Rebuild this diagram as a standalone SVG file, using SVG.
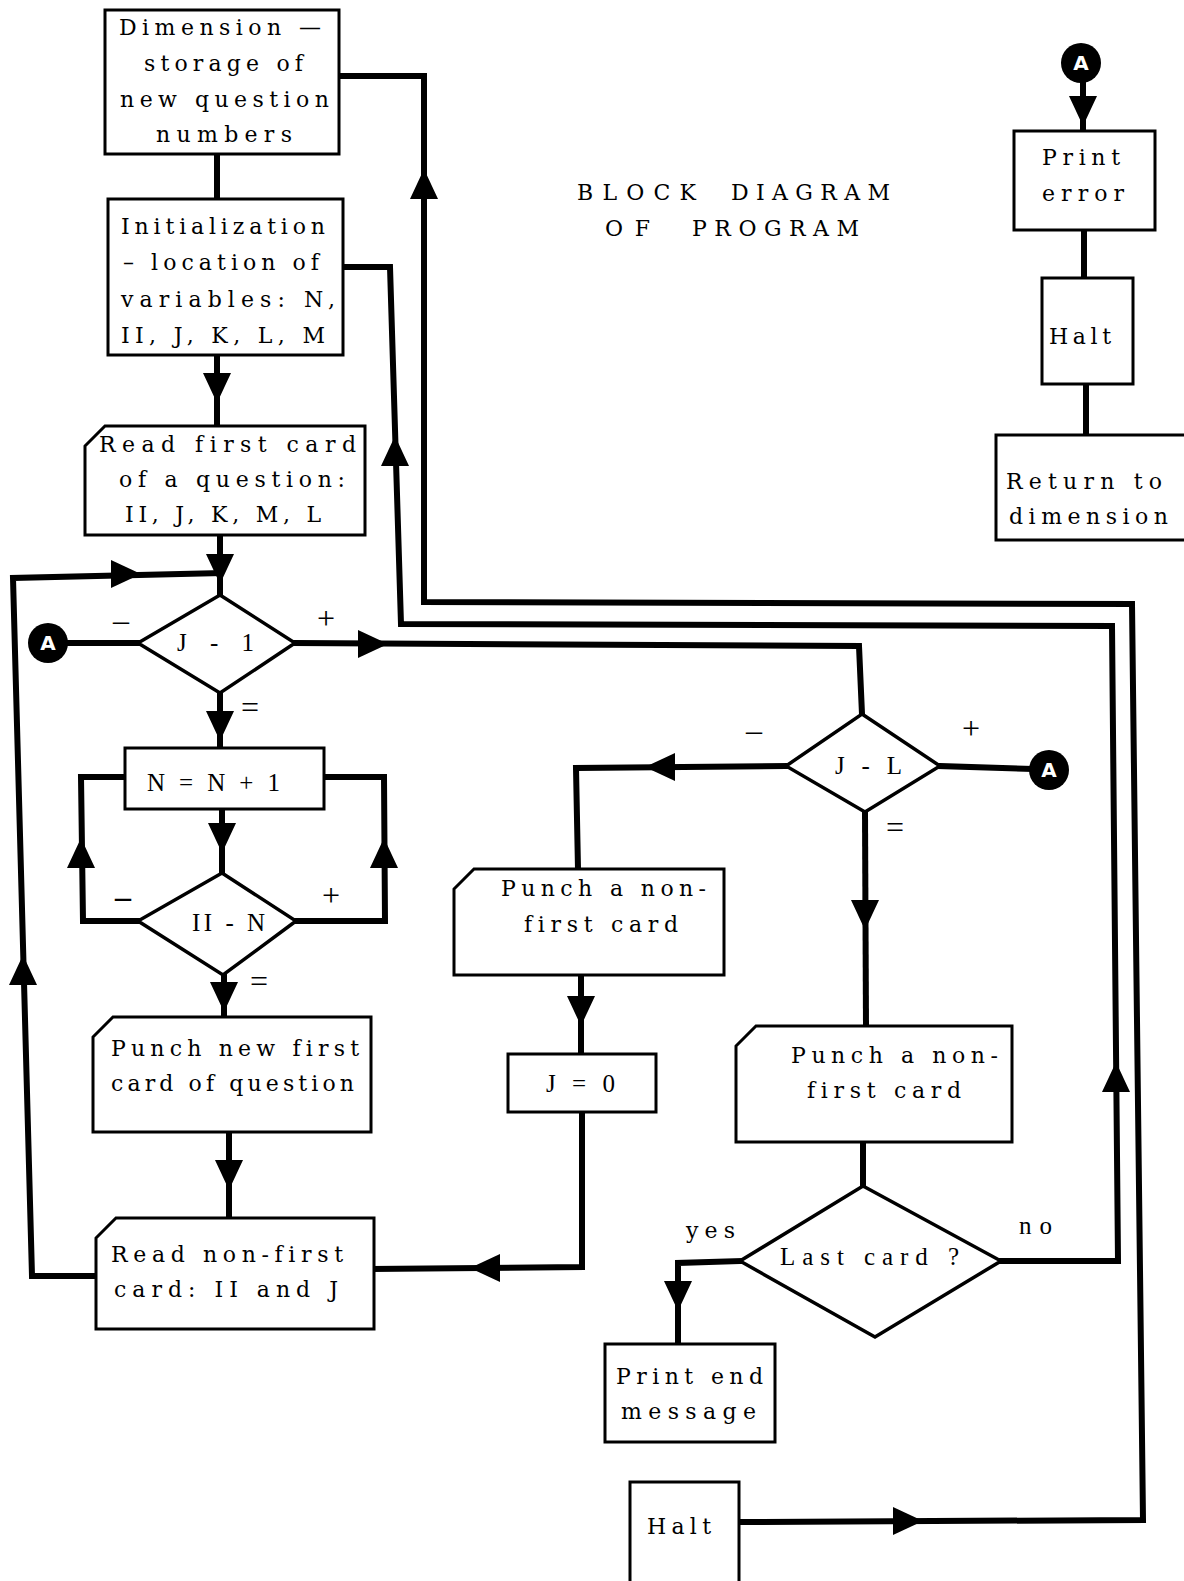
<svg xmlns="http://www.w3.org/2000/svg" xmlns:xlink="http://www.w3.org/1999/xlink" width="1184" height="1581" viewBox="0 0 1184 1581">
<style>
.bg{fill:#fff}
.box{fill:#fff;stroke:#000;stroke-width:3;stroke-linejoin:miter}
.dia{fill:#fff;stroke:#000;stroke-width:3.5;stroke-linejoin:miter}
.c{fill:none;stroke:#000;stroke-width:6;stroke-linejoin:miter;stroke-linecap:square}
.t{font-family:"DejaVu Serif","Liberation Serif",serif;font-size:22px;fill:#000;font-variant-ligatures:none}
.s{font-family:"Liberation Serif","DejaVu Serif",serif;font-size:25px;fill:#000;font-variant-ligatures:none}
.l{font-family:"Liberation Serif","DejaVu Serif",serif;font-size:32px;fill:#000;text-anchor:middle}
.conn{fill:#000}
.ct{font-family:"DejaVu Sans","Liberation Sans",sans-serif;font-size:20px;font-weight:bold;fill:#fff;text-anchor:middle}
</style>
<defs>
<path id="ah" d="M0,0 L-14,-30 L14,-30 Z"/>
</defs>
<rect class="bg" x="0" y="0" width="1184" height="1581"/>

<g id="connectors">
<path class="c" d="M217,154 V199"/>
<path class="c" d="M217,355 V426"/>
<path class="c" d="M220,535 V595"/>
<path class="c" d="M96,1276 H32 L13,578 L220,573"/>
<path class="c" d="M66,643 H138"/>
<path class="c" d="M295,643 L859,646 L862,714"/>
<path class="c" d="M220,693 V748"/>
<path class="c" d="M125,777 H81 L83,921 H138"/>
<path class="c" d="M324,777 H384 L385,921 H296"/>
<path class="c" d="M222,809 V873"/>
<path class="c" d="M224,975 V1017"/>
<path class="c" d="M229,1132 V1218"/>
<path class="c" d="M582,1112 V1267 L374,1269"/>
<path class="c" d="M581,975 V1054"/>
<path class="c" d="M786,766 L576,768 L578,869"/>
<path class="c" d="M940,766 L1030,769"/>
<path class="c" d="M865,812 L866,1026"/>
<path class="c" d="M863,1142 V1186"/>
<path class="c" d="M740,1261 L678,1263 L678,1344"/>
<path class="c" d="M1001,1261 H1118 L1112,626 L401,624 L390,267 H343"/>
<path class="c" d="M739,1522 L1143,1520 L1132,604 L424,602 V76 H339"/>
<path class="c" d="M1083,83 V131"/>
<path class="c" d="M1084,230 V278"/>
<path class="c" d="M1086,384 V435"/>
<g class="conn">
<use xlink:href="#ah" transform="translate(217,403)"/>
<use xlink:href="#ah" transform="translate(220,584)"/>
<use xlink:href="#ah" transform="translate(141,574) rotate(-90)"/>
<use xlink:href="#ah" transform="translate(23,955) rotate(180)"/>
<use xlink:href="#ah" transform="translate(388,644) rotate(-90)"/>
<use xlink:href="#ah" transform="translate(220,741)"/>
<use xlink:href="#ah" transform="translate(81,838) rotate(180)"/>
<use xlink:href="#ah" transform="translate(384,838) rotate(180)"/>
<use xlink:href="#ah" transform="translate(222,853)"/>
<use xlink:href="#ah" transform="translate(224,1012)"/>
<use xlink:href="#ah" transform="translate(229,1190)"/>
<use xlink:href="#ah" transform="translate(470,1268) rotate(90)"/>
<use xlink:href="#ah" transform="translate(581,1026)"/>
<use xlink:href="#ah" transform="translate(645,767) rotate(90)"/>
<use xlink:href="#ah" transform="translate(865,930)"/>
<use xlink:href="#ah" transform="translate(678,1311)"/>
<use xlink:href="#ah" transform="translate(1116,1062) rotate(180)"/>
<use xlink:href="#ah" transform="translate(395,436) rotate(180)"/>
<use xlink:href="#ah" transform="translate(923,1521) rotate(-90)"/>
<use xlink:href="#ah" transform="translate(424,169) rotate(180)"/>
<use xlink:href="#ah" transform="translate(1083,126)"/>
</g>
</g>

<g id="title">
<text class="t" y="200"><tspan x="577" textLength="119" lengthAdjust="spacing">BLOCK</tspan><tspan x="731" textLength="159" lengthAdjust="spacing">DIAGRAM</tspan></text>
<text class="t" y="236"><tspan x="605" textLength="45" lengthAdjust="spacing">OF</tspan><tspan x="692" textLength="167" lengthAdjust="spacing">PROGRAM</tspan></text>
</g>

<g id="dimension">
<rect class="box" x="105" y="10" width="234" height="144"/>
<text class="t" x="119" y="35" textLength="202" lengthAdjust="spacing">Dimension —</text>
<text class="t" x="144" y="71" textLength="159" lengthAdjust="spacing">storage of</text>
<text class="t" x="120" y="107" textLength="209" lengthAdjust="spacing">new question</text>
<text class="t" x="156" y="142" textLength="136" lengthAdjust="spacing">numbers</text>
</g>

<g id="initialization">
<rect class="box" x="108" y="199" width="235" height="156"/>
<text class="t" x="121" y="234" textLength="204" lengthAdjust="spacing">Initialization</text>
<text class="t" x="123" y="270" textLength="196" lengthAdjust="spacing">– location of</text>
<text class="t" x="121" y="307" textLength="214" lengthAdjust="spacing">variables: N,</text>
<text class="t" x="121" y="343" textLength="204" lengthAdjust="spacing">II, J, K, L, M</text>
</g>

<g id="read-first">
<path class="box" d="M85,446 L105,426 H365 V535 H85 Z"/>
<text class="t" x="99" y="452" textLength="257" lengthAdjust="spacing">Read first card</text>
<text class="t" x="119" y="487" textLength="226" lengthAdjust="spacing">of a question:</text>
<text class="t" x="125" y="522" textLength="196" lengthAdjust="spacing">II, J, K, M, L</text>
</g>

<g id="connector-a-left">
<circle cx="48" cy="643" r="20" fill="#000"/>
<text class="ct" x="48" y="650">A</text>
</g>

<g id="j-1">
<path class="dia" d="M220,595 L295,643 L220,693 L138,643 Z"/>
<text class="s" x="177" y="651" textLength="77" lengthAdjust="spacing">J - 1</text>
<text class="l" x="121" y="631">–</text>
<text class="l" x="326" y="629">+</text>
<text class="l" x="250" y="718">=</text>
</g>

<g id="n-plus-1">
<rect class="box" x="125" y="748" width="199" height="61"/>
<text class="s" x="147" y="791" textLength="133" lengthAdjust="spacing">N = N + 1</text>
</g>

<g id="ii-n">
<path class="dia" d="M222,873 L296,921 L223,975 L138,921 Z"/>
<text class="s" x="192" y="931" textLength="73" lengthAdjust="spacing">II - N</text>
<text class="l" x="123" y="907" font-weight="bold">–</text>
<text class="l" x="331" y="906">+</text>
<text class="l" x="259" y="992">=</text>
</g>

<g id="punch-new-first">
<path class="box" d="M93,1037 L113,1017 H371 V1132 H93 Z"/>
<text class="t" x="111" y="1056" textLength="248" lengthAdjust="spacing">Punch new first</text>
<text class="t" x="111" y="1091" textLength="243" lengthAdjust="spacing">card of question</text>
</g>

<g id="read-non-first">
<path class="box" d="M96,1238 L116,1218 H374 V1329 H96 Z"/>
<text class="t" x="111" y="1262" textLength="232" lengthAdjust="spacing">Read non-first</text>
<text class="t" x="114" y="1297" textLength="224" lengthAdjust="spacing">card: II and J</text>
</g>

<g id="punch-non-first-left">
<path class="box" d="M454,889 L474,869 H724 V975 H454 Z"/>
<text class="t" x="501" y="896" textLength="205" lengthAdjust="spacing">Punch a non-</text>
<text class="t" x="524" y="932" textLength="154" lengthAdjust="spacing">first card</text>
</g>

<g id="j-0">
<rect class="box" x="508" y="1054" width="148" height="58"/>
<text class="s" x="546" y="1092" textLength="69" lengthAdjust="spacing">J = 0</text>
</g>

<g id="j-l">
<path class="dia" d="M862,714 L940,766 L865,812 L786,766 Z"/>
<text class="s" x="835" y="774" textLength="67" lengthAdjust="spacing">J - L</text>
<text class="l" x="754" y="741">–</text>
<text class="l" x="971" y="739">+</text>
<text class="l" x="895" y="838">=</text>
</g>

<g id="connector-a-right">
<circle cx="1049" cy="770" r="20" fill="#000"/>
<text class="ct" x="1049" y="777">A</text>
</g>

<g id="punch-non-first-right">
<path class="box" d="M736,1046 L756,1026 H1012 V1142 H736 Z"/>
<text class="t" x="791" y="1063" textLength="207" lengthAdjust="spacing">Punch a non-</text>
<text class="t" x="807" y="1098" textLength="154" lengthAdjust="spacing">first card</text>
</g>

<g id="last-card">
<path class="dia" d="M863,1186 L1001,1261 L875,1337 L740,1261 Z"/>
<text class="s" x="780" y="1265" textLength="179" lengthAdjust="spacing">Last card ?</text>
<text class="t" x="686" y="1238" textLength="49" lengthAdjust="spacing">yes</text>
<text class="s" x="1019" y="1234" textLength="33" lengthAdjust="spacing">no</text>
</g>

<g id="print-end">
<rect class="box" x="605" y="1344" width="170" height="98"/>
<text class="t" x="616" y="1384" textLength="147" lengthAdjust="spacing">Print end</text>
<text class="t" x="621" y="1419" textLength="135" lengthAdjust="spacing">message</text>
</g>

<g id="halt-bottom">
<rect class="box" x="630" y="1482" width="109" height="110"/>
<text class="t" x="647" y="1534" textLength="64" lengthAdjust="spacing">Halt</text>
</g>

<g id="connector-a-top">
<circle cx="1081" cy="63" r="20" fill="#000"/>
<text class="ct" x="1081" y="70">A</text>
</g>

<g id="print-error">
<rect class="box" x="1014" y="131" width="141" height="99"/>
<text class="t" x="1042" y="165" textLength="78" lengthAdjust="spacing">Print</text>
<text class="t" x="1042" y="201" textLength="82" lengthAdjust="spacing">error</text>
</g>

<g id="halt-top">
<rect class="box" x="1042" y="278" width="91" height="106"/>
<text class="t" x="1049" y="344" textLength="62" lengthAdjust="spacing">Halt</text>
</g>

<g id="return-to-dimension">
<rect class="box" x="996" y="435" width="200" height="105"/>
<text class="t" x="1006" y="489" textLength="156" lengthAdjust="spacing">Return to</text>
<text class="t" x="1009" y="524" textLength="159" lengthAdjust="spacing">dimension</text>
</g>
</svg>
